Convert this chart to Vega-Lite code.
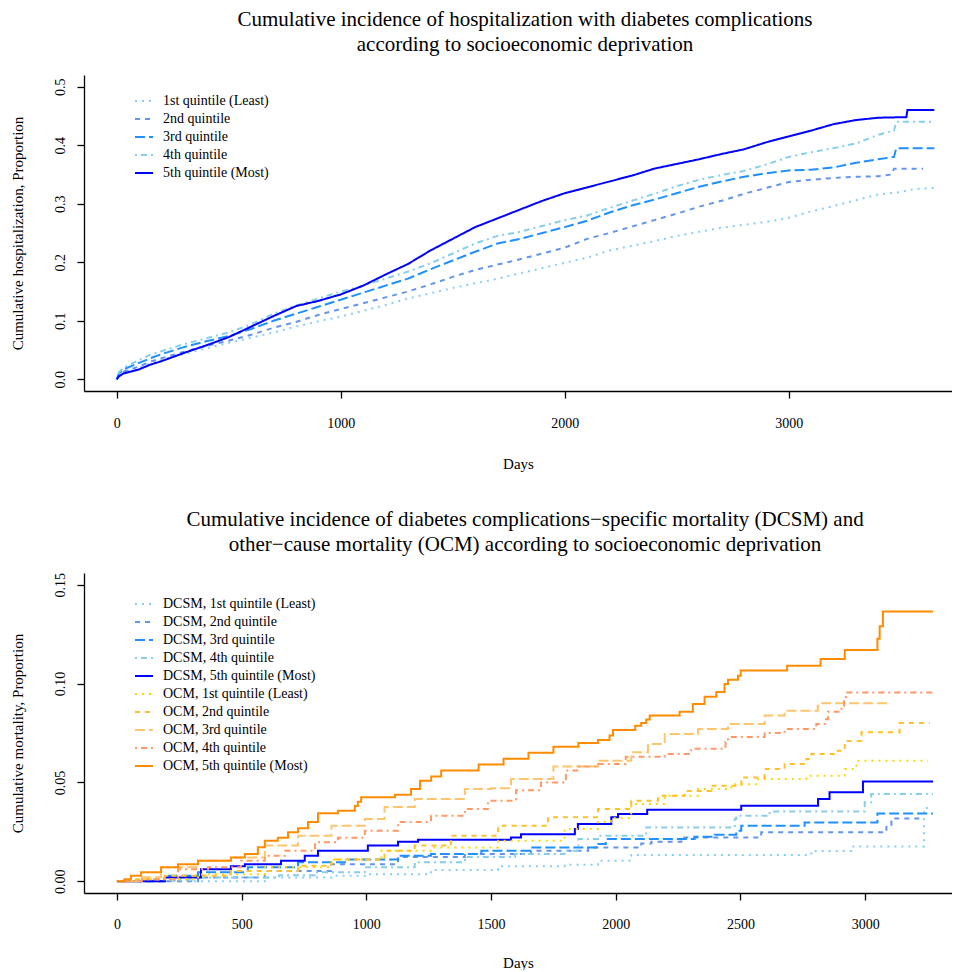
{
  "$schema": "https://vega.github.io/schema/vega-lite/v6.json",
  "padding": {"left": 10, "top": 9, "right": 0, "bottom": 0},
  "bounds": "flush",
  "spacing": 182,
  "datasets": {
    "hosp": [
      {"g":"1st quintile (Least)","d":0,"p":0},{"g":"1st quintile (Least)","d":10,"p":0.007},{"g":"1st quintile (Least)","d":30,"p":0.012},{"g":"1st quintile (Least)","d":100,"p":0.020},{"g":"1st quintile (Least)","d":150,"p":0.027},{"g":"1st quintile (Least)","d":200,"p":0.033},{"g":"1st quintile (Least)","d":300,"p":0.043},{"g":"1st quintile (Least)","d":400,"p":0.053},{"g":"1st quintile (Least)","d":500,"p":0.062},{"g":"1st quintile (Least)","d":600,"p":0.071},{"g":"1st quintile (Least)","d":700,"p":0.080},{"g":"1st quintile (Least)","d":800,"p":0.090},{"g":"1st quintile (Least)","d":900,"p":0.099},{"g":"1st quintile (Least)","d":1000,"p":0.107},{"g":"1st quintile (Least)","d":1100,"p":0.117},{"g":"1st quintile (Least)","d":1200,"p":0.127},{"g":"1st quintile (Least)","d":1300,"p":0.138},{"g":"1st quintile (Least)","d":1400,"p":0.147},{"g":"1st quintile (Least)","d":1500,"p":0.156},{"g":"1st quintile (Least)","d":1600,"p":0.164},{"g":"1st quintile (Least)","d":1700,"p":0.172},{"g":"1st quintile (Least)","d":1800,"p":0.181},{"g":"1st quintile (Least)","d":1900,"p":0.190},{"g":"1st quintile (Least)","d":2000,"p":0.199},{"g":"1st quintile (Least)","d":2100,"p":0.208},{"g":"1st quintile (Least)","d":2200,"p":0.220},{"g":"1st quintile (Least)","d":2300,"p":0.228},{"g":"1st quintile (Least)","d":2400,"p":0.236},{"g":"1st quintile (Least)","d":2500,"p":0.245},{"g":"1st quintile (Least)","d":2600,"p":0.252},{"g":"1st quintile (Least)","d":2700,"p":0.259},{"g":"1st quintile (Least)","d":2800,"p":0.264},{"g":"1st quintile (Least)","d":2900,"p":0.269},{"g":"1st quintile (Least)","d":3000,"p":0.276},{"g":"1st quintile (Least)","d":3100,"p":0.287},{"g":"1st quintile (Least)","d":3200,"p":0.296},{"g":"1st quintile (Least)","d":3300,"p":0.306},{"g":"1st quintile (Least)","d":3400,"p":0.316},{"g":"1st quintile (Least)","d":3500,"p":0.320},{"g":"1st quintile (Least)","d":3560,"p":0.325},{"g":"1st quintile (Least)","d":3650,"p":0.327},
      {"g":"2nd quintile","d":0,"p":0},{"g":"2nd quintile","d":10,"p":0.008},{"g":"2nd quintile","d":30,"p":0.013},{"g":"2nd quintile","d":100,"p":0.022},{"g":"2nd quintile","d":150,"p":0.030},{"g":"2nd quintile","d":200,"p":0.036},{"g":"2nd quintile","d":300,"p":0.047},{"g":"2nd quintile","d":400,"p":0.057},{"g":"2nd quintile","d":500,"p":0.066},{"g":"2nd quintile","d":600,"p":0.076},{"g":"2nd quintile","d":700,"p":0.088},{"g":"2nd quintile","d":800,"p":0.098},{"g":"2nd quintile","d":900,"p":0.110},{"g":"2nd quintile","d":1000,"p":0.120},{"g":"2nd quintile","d":1100,"p":0.130},{"g":"2nd quintile","d":1200,"p":0.140},{"g":"2nd quintile","d":1300,"p":0.150},{"g":"2nd quintile","d":1400,"p":0.162},{"g":"2nd quintile","d":1500,"p":0.175},{"g":"2nd quintile","d":1600,"p":0.187},{"g":"2nd quintile","d":1700,"p":0.196},{"g":"2nd quintile","d":1800,"p":0.205},{"g":"2nd quintile","d":1900,"p":0.215},{"g":"2nd quintile","d":2000,"p":0.225},{"g":"2nd quintile","d":2100,"p":0.240},{"g":"2nd quintile","d":2200,"p":0.250},{"g":"2nd quintile","d":2300,"p":0.261},{"g":"2nd quintile","d":2400,"p":0.272},{"g":"2nd quintile","d":2500,"p":0.283},{"g":"2nd quintile","d":2600,"p":0.295},{"g":"2nd quintile","d":2700,"p":0.305},{"g":"2nd quintile","d":2800,"p":0.317},{"g":"2nd quintile","d":2900,"p":0.327},{"g":"2nd quintile","d":3000,"p":0.337},{"g":"2nd quintile","d":3100,"p":0.341},{"g":"2nd quintile","d":3200,"p":0.344},{"g":"2nd quintile","d":3300,"p":0.346},{"g":"2nd quintile","d":3400,"p":0.347},{"g":"2nd quintile","d":3460,"p":0.350},{"g":"2nd quintile","d":3470,"p":0.360},{"g":"2nd quintile","d":3600,"p":0.360},
      {"g":"3rd quintile","d":0,"p":0},{"g":"3rd quintile","d":10,"p":0.010},{"g":"3rd quintile","d":30,"p":0.017},{"g":"3rd quintile","d":100,"p":0.028},{"g":"3rd quintile","d":150,"p":0.036},{"g":"3rd quintile","d":200,"p":0.043},{"g":"3rd quintile","d":300,"p":0.055},{"g":"3rd quintile","d":400,"p":0.065},{"g":"3rd quintile","d":500,"p":0.074},{"g":"3rd quintile","d":600,"p":0.086},{"g":"3rd quintile","d":700,"p":0.100},{"g":"3rd quintile","d":800,"p":0.112},{"g":"3rd quintile","d":900,"p":0.124},{"g":"3rd quintile","d":1000,"p":0.136},{"g":"3rd quintile","d":1100,"p":0.148},{"g":"3rd quintile","d":1200,"p":0.160},{"g":"3rd quintile","d":1300,"p":0.172},{"g":"3rd quintile","d":1400,"p":0.188},{"g":"3rd quintile","d":1500,"p":0.203},{"g":"3rd quintile","d":1600,"p":0.218},{"g":"3rd quintile","d":1700,"p":0.232},{"g":"3rd quintile","d":1800,"p":0.240},{"g":"3rd quintile","d":1900,"p":0.250},{"g":"3rd quintile","d":2000,"p":0.260},{"g":"3rd quintile","d":2100,"p":0.271},{"g":"3rd quintile","d":2200,"p":0.285},{"g":"3rd quintile","d":2300,"p":0.297},{"g":"3rd quintile","d":2400,"p":0.307},{"g":"3rd quintile","d":2500,"p":0.318},{"g":"3rd quintile","d":2600,"p":0.329},{"g":"3rd quintile","d":2700,"p":0.338},{"g":"3rd quintile","d":2800,"p":0.346},{"g":"3rd quintile","d":2900,"p":0.352},{"g":"3rd quintile","d":3000,"p":0.357},{"g":"3rd quintile","d":3100,"p":0.358},{"g":"3rd quintile","d":3200,"p":0.362},{"g":"3rd quintile","d":3300,"p":0.370},{"g":"3rd quintile","d":3400,"p":0.376},{"g":"3rd quintile","d":3470,"p":0.380},{"g":"3rd quintile","d":3480,"p":0.395},{"g":"3rd quintile","d":3650,"p":0.395},
      {"g":"4th quintile","d":0,"p":0},{"g":"4th quintile","d":10,"p":0.012},{"g":"4th quintile","d":30,"p":0.020},{"g":"4th quintile","d":100,"p":0.033},{"g":"4th quintile","d":150,"p":0.042},{"g":"4th quintile","d":200,"p":0.048},{"g":"4th quintile","d":300,"p":0.060},{"g":"4th quintile","d":400,"p":0.070},{"g":"4th quintile","d":500,"p":0.080},{"g":"4th quintile","d":600,"p":0.094},{"g":"4th quintile","d":700,"p":0.112},{"g":"4th quintile","d":800,"p":0.126},{"g":"4th quintile","d":900,"p":0.138},{"g":"4th quintile","d":1000,"p":0.150},{"g":"4th quintile","d":1100,"p":0.160},{"g":"4th quintile","d":1200,"p":0.172},{"g":"4th quintile","d":1300,"p":0.184},{"g":"4th quintile","d":1400,"p":0.198},{"g":"4th quintile","d":1500,"p":0.215},{"g":"4th quintile","d":1600,"p":0.232},{"g":"4th quintile","d":1700,"p":0.245},{"g":"4th quintile","d":1800,"p":0.252},{"g":"4th quintile","d":1900,"p":0.262},{"g":"4th quintile","d":2000,"p":0.272},{"g":"4th quintile","d":2100,"p":0.280},{"g":"4th quintile","d":2200,"p":0.293},{"g":"4th quintile","d":2300,"p":0.305},{"g":"4th quintile","d":2400,"p":0.317},{"g":"4th quintile","d":2500,"p":0.330},{"g":"4th quintile","d":2600,"p":0.341},{"g":"4th quintile","d":2700,"p":0.349},{"g":"4th quintile","d":2800,"p":0.356},{"g":"4th quintile","d":2900,"p":0.367},{"g":"4th quintile","d":3000,"p":0.380},{"g":"4th quintile","d":3100,"p":0.388},{"g":"4th quintile","d":3200,"p":0.395},{"g":"4th quintile","d":3300,"p":0.403},{"g":"4th quintile","d":3400,"p":0.418},{"g":"4th quintile","d":3470,"p":0.425},{"g":"4th quintile","d":3480,"p":0.440},{"g":"4th quintile","d":3650,"p":0.440},
      {"g":"5th quintile (Most)","d":0,"p":0},{"g":"5th quintile (Most)","d":10,"p":0.005},{"g":"5th quintile (Most)","d":30,"p":0.010},{"g":"5th quintile (Most)","d":60,"p":0.013},{"g":"5th quintile (Most)","d":100,"p":0.017},{"g":"5th quintile (Most)","d":150,"p":0.025},{"g":"5th quintile (Most)","d":200,"p":0.031},{"g":"5th quintile (Most)","d":300,"p":0.045},{"g":"5th quintile (Most)","d":400,"p":0.058},{"g":"5th quintile (Most)","d":500,"p":0.072},{"g":"5th quintile (Most)","d":600,"p":0.090},{"g":"5th quintile (Most)","d":700,"p":0.108},{"g":"5th quintile (Most)","d":800,"p":0.125},{"g":"5th quintile (Most)","d":900,"p":0.134},{"g":"5th quintile (Most)","d":1000,"p":0.145},{"g":"5th quintile (Most)","d":1100,"p":0.160},{"g":"5th quintile (Most)","d":1200,"p":0.179},{"g":"5th quintile (Most)","d":1300,"p":0.197},{"g":"5th quintile (Most)","d":1400,"p":0.220},{"g":"5th quintile (Most)","d":1500,"p":0.240},{"g":"5th quintile (Most)","d":1600,"p":0.260},{"g":"5th quintile (Most)","d":1700,"p":0.275},{"g":"5th quintile (Most)","d":1800,"p":0.290},{"g":"5th quintile (Most)","d":1900,"p":0.305},{"g":"5th quintile (Most)","d":2000,"p":0.318},{"g":"5th quintile (Most)","d":2100,"p":0.328},{"g":"5th quintile (Most)","d":2200,"p":0.338},{"g":"5th quintile (Most)","d":2300,"p":0.348},{"g":"5th quintile (Most)","d":2400,"p":0.360},{"g":"5th quintile (Most)","d":2500,"p":0.368},{"g":"5th quintile (Most)","d":2600,"p":0.376},{"g":"5th quintile (Most)","d":2700,"p":0.385},{"g":"5th quintile (Most)","d":2800,"p":0.393},{"g":"5th quintile (Most)","d":2900,"p":0.405},{"g":"5th quintile (Most)","d":3000,"p":0.415},{"g":"5th quintile (Most)","d":3100,"p":0.425},{"g":"5th quintile (Most)","d":3200,"p":0.436},{"g":"5th quintile (Most)","d":3300,"p":0.443},{"g":"5th quintile (Most)","d":3400,"p":0.447},{"g":"5th quintile (Most)","d":3525,"p":0.448},{"g":"5th quintile (Most)","d":3530,"p":0.460},{"g":"5th quintile (Most)","d":3650,"p":0.460}
    ],
    "mort": [
      {"g":"DCSM, 1st quintile (Least)","d":0,"p":0},{"g":"DCSM, 1st quintile (Least)","d":600,"p":0.0019},{"g":"DCSM, 1st quintile (Least)","d":860,"p":0.0027},{"g":"DCSM, 1st quintile (Least)","d":994,"p":0.0035},{"g":"DCSM, 1st quintile (Least)","d":1259,"p":0.0057},{"g":"DCSM, 1st quintile (Least)","d":1528,"p":0.0076},{"g":"DCSM, 1st quintile (Least)","d":1795,"p":0.0083},{"g":"DCSM, 1st quintile (Least)","d":1929,"p":0.0103},{"g":"DCSM, 1st quintile (Least)","d":2062,"p":0.0132},{"g":"DCSM, 1st quintile (Least)","d":2784,"p":0.0153},{"g":"DCSM, 1st quintile (Least)","d":2944,"p":0.0175},{"g":"DCSM, 1st quintile (Least)","d":3236,"p":0.037},{"g":"DCSM, 1st quintile (Least)","d":3265,"p":0.037},
      {"g":"DCSM, 2nd quintile","d":0,"p":0},{"g":"DCSM, 2nd quintile","d":325,"p":0.0019},{"g":"DCSM, 2nd quintile","d":593,"p":0.0052},{"g":"DCSM, 2nd quintile","d":860,"p":0.0086},{"g":"DCSM, 2nd quintile","d":1127,"p":0.0122},{"g":"DCSM, 2nd quintile","d":1395,"p":0.0137},{"g":"DCSM, 2nd quintile","d":1660,"p":0.0154},{"g":"DCSM, 2nd quintile","d":1889,"p":0.017},{"g":"DCSM, 2nd quintile","d":2102,"p":0.019},{"g":"DCSM, 2nd quintile","d":2143,"p":0.0199},{"g":"DCSM, 2nd quintile","d":2263,"p":0.0221},{"g":"DCSM, 2nd quintile","d":2583,"p":0.0247},{"g":"DCSM, 2nd quintile","d":3085,"p":0.0284},{"g":"DCSM, 2nd quintile","d":3105,"p":0.0317},{"g":"DCSM, 2nd quintile","d":3232,"p":0.0317},
      {"g":"DCSM, 3rd quintile","d":0,"p":0},{"g":"DCSM, 3rd quintile","d":192,"p":0.0027},{"g":"DCSM, 3rd quintile","d":325,"p":0.0045},{"g":"DCSM, 3rd quintile","d":525,"p":0.007},{"g":"DCSM, 3rd quintile","d":726,"p":0.0096},{"g":"DCSM, 3rd quintile","d":926,"p":0.011},{"g":"DCSM, 3rd quintile","d":1127,"p":0.0128},{"g":"DCSM, 3rd quintile","d":1259,"p":0.0137},{"g":"DCSM, 3rd quintile","d":1461,"p":0.0154},{"g":"DCSM, 3rd quintile","d":1660,"p":0.017},{"g":"DCSM, 3rd quintile","d":1929,"p":0.0188},{"g":"DCSM, 3rd quintile","d":1960,"p":0.0213},{"g":"DCSM, 3rd quintile","d":2316,"p":0.0225},{"g":"DCSM, 3rd quintile","d":2396,"p":0.0235},{"g":"DCSM, 3rd quintile","d":2483,"p":0.0255},{"g":"DCSM, 3rd quintile","d":2503,"p":0.028},{"g":"DCSM, 3rd quintile","d":2757,"p":0.0297},{"g":"DCSM, 3rd quintile","d":3049,"p":0.0343},{"g":"DCSM, 3rd quintile","d":3272,"p":0.0343},
      {"g":"DCSM, 4th quintile","d":0,"p":0},{"g":"DCSM, 4th quintile","d":100,"p":0.0005},{"g":"DCSM, 4th quintile","d":300,"p":0.0019},{"g":"DCSM, 4th quintile","d":650,"p":0.003},{"g":"DCSM, 4th quintile","d":794,"p":0.0045},{"g":"DCSM, 4th quintile","d":994,"p":0.007},{"g":"DCSM, 4th quintile","d":1194,"p":0.0096},{"g":"DCSM, 4th quintile","d":1395,"p":0.0122},{"g":"DCSM, 4th quintile","d":1596,"p":0.0137},{"g":"DCSM, 4th quintile","d":1795,"p":0.0154},{"g":"DCSM, 4th quintile","d":1850,"p":0.0213},{"g":"DCSM, 4th quintile","d":1929,"p":0.023},{"g":"DCSM, 4th quintile","d":2122,"p":0.0272},{"g":"DCSM, 4th quintile","d":2477,"p":0.0314},{"g":"DCSM, 4th quintile","d":2483,"p":0.0331},{"g":"DCSM, 4th quintile","d":2617,"p":0.0353},{"g":"DCSM, 4th quintile","d":2998,"p":0.0399},{"g":"DCSM, 4th quintile","d":3024,"p":0.0441},{"g":"DCSM, 4th quintile","d":3272,"p":0.0441},
      {"g":"DCSM, 5th quintile (Most)","d":0,"p":0},{"g":"DCSM, 5th quintile (Most)","d":192,"p":0.0019},{"g":"DCSM, 5th quintile (Most)","d":337,"p":0.006},{"g":"DCSM, 5th quintile (Most)","d":457,"p":0.0076},{"g":"DCSM, 5th quintile (Most)","d":513,"p":0.0085},{"g":"DCSM, 5th quintile (Most)","d":658,"p":0.0103},{"g":"DCSM, 5th quintile (Most)","d":753,"p":0.0128},{"g":"DCSM, 5th quintile (Most)","d":806,"p":0.0154},{"g":"DCSM, 5th quintile (Most)","d":1006,"p":0.018},{"g":"DCSM, 5th quintile (Most)","d":1127,"p":0.0199},{"g":"DCSM, 5th quintile (Most)","d":1207,"p":0.0209},{"g":"DCSM, 5th quintile (Most)","d":1580,"p":0.0221},{"g":"DCSM, 5th quintile (Most)","d":1620,"p":0.0238},{"g":"DCSM, 5th quintile (Most)","d":1836,"p":0.0264},{"g":"DCSM, 5th quintile (Most)","d":1848,"p":0.0289},{"g":"DCSM, 5th quintile (Most)","d":1982,"p":0.0323},{"g":"DCSM, 5th quintile (Most)","d":2009,"p":0.034},{"g":"DCSM, 5th quintile (Most)","d":2126,"p":0.0361},{"g":"DCSM, 5th quintile (Most)","d":2503,"p":0.0382},{"g":"DCSM, 5th quintile (Most)","d":2811,"p":0.0416},{"g":"DCSM, 5th quintile (Most)","d":2857,"p":0.045},{"g":"DCSM, 5th quintile (Most)","d":2991,"p":0.0505},{"g":"DCSM, 5th quintile (Most)","d":3272,"p":0.0505},
      {"g":"OCM, 1st quintile (Least)","d":0,"p":0},{"g":"OCM, 1st quintile (Least)","d":60,"p":0.001},{"g":"OCM, 1st quintile (Least)","d":325,"p":0.0035},{"g":"OCM, 1st quintile (Least)","d":593,"p":0.007},{"g":"OCM, 1st quintile (Least)","d":860,"p":0.011},{"g":"OCM, 1st quintile (Least)","d":1060,"p":0.0154},{"g":"OCM, 1st quintile (Least)","d":1259,"p":0.017},{"g":"OCM, 1st quintile (Least)","d":1528,"p":0.0204},{"g":"OCM, 1st quintile (Least)","d":1795,"p":0.0264},{"g":"OCM, 1st quintile (Least)","d":1929,"p":0.030},{"g":"OCM, 1st quintile (Least)","d":1980,"p":0.032},{"g":"OCM, 1st quintile (Least)","d":2062,"p":0.039},{"g":"OCM, 1st quintile (Least)","d":2196,"p":0.0432},{"g":"OCM, 1st quintile (Least)","d":2330,"p":0.0466},{"g":"OCM, 1st quintile (Least)","d":2463,"p":0.049},{"g":"OCM, 1st quintile (Least)","d":2570,"p":0.0517},{"g":"OCM, 1st quintile (Least)","d":2764,"p":0.0533},{"g":"OCM, 1st quintile (Least)","d":2918,"p":0.0568},{"g":"OCM, 1st quintile (Least)","d":2965,"p":0.061},{"g":"OCM, 1st quintile (Least)","d":3252,"p":0.061},
      {"g":"OCM, 2nd quintile","d":0,"p":0},{"g":"OCM, 2nd quintile","d":60,"p":0.001},{"g":"OCM, 2nd quintile","d":192,"p":0.0027},{"g":"OCM, 2nd quintile","d":457,"p":0.0052},{"g":"OCM, 2nd quintile","d":726,"p":0.0078},{"g":"OCM, 2nd quintile","d":860,"p":0.011},{"g":"OCM, 2nd quintile","d":1073,"p":0.0154},{"g":"OCM, 2nd quintile","d":1194,"p":0.018},{"g":"OCM, 2nd quintile","d":1339,"p":0.023},{"g":"OCM, 2nd quintile","d":1528,"p":0.028},{"g":"OCM, 2nd quintile","d":1728,"p":0.0324},{"g":"OCM, 2nd quintile","d":1929,"p":0.0365},{"g":"OCM, 2nd quintile","d":2062,"p":0.0407},{"g":"OCM, 2nd quintile","d":2169,"p":0.0432},{"g":"OCM, 2nd quintile","d":2276,"p":0.0457},{"g":"OCM, 2nd quintile","d":2383,"p":0.0483},{"g":"OCM, 2nd quintile","d":2503,"p":0.0525},{"g":"OCM, 2nd quintile","d":2597,"p":0.0568},{"g":"OCM, 2nd quintile","d":2677,"p":0.0593},{"g":"OCM, 2nd quintile","d":2764,"p":0.0618},{"g":"OCM, 2nd quintile","d":2784,"p":0.0644},{"g":"OCM, 2nd quintile","d":2884,"p":0.066},{"g":"OCM, 2nd quintile","d":2918,"p":0.071},{"g":"OCM, 2nd quintile","d":2985,"p":0.0754},{"g":"OCM, 2nd quintile","d":3138,"p":0.080},{"g":"OCM, 2nd quintile","d":3259,"p":0.080},
      {"g":"OCM, 3rd quintile","d":0,"p":0},{"g":"OCM, 3rd quintile","d":100,"p":0.002},{"g":"OCM, 3rd quintile","d":177,"p":0.007},{"g":"OCM, 3rd quintile","d":325,"p":0.0103},{"g":"OCM, 3rd quintile","d":457,"p":0.012},{"g":"OCM, 3rd quintile","d":593,"p":0.018},{"g":"OCM, 3rd quintile","d":726,"p":0.023},{"g":"OCM, 3rd quintile","d":860,"p":0.028},{"g":"OCM, 3rd quintile","d":994,"p":0.0314},{"g":"OCM, 3rd quintile","d":1073,"p":0.0375},{"g":"OCM, 3rd quintile","d":1194,"p":0.0416},{"g":"OCM, 3rd quintile","d":1395,"p":0.0466},{"g":"OCM, 3rd quintile","d":1500,"p":0.047},{"g":"OCM, 3rd quintile","d":1580,"p":0.0517},{"g":"OCM, 3rd quintile","d":1750,"p":0.058},{"g":"OCM, 3rd quintile","d":1929,"p":0.061},{"g":"OCM, 3rd quintile","d":2062,"p":0.0652},{"g":"OCM, 3rd quintile","d":2129,"p":0.0694},{"g":"OCM, 3rd quintile","d":2196,"p":0.0745},{"g":"OCM, 3rd quintile","d":2330,"p":0.077},{"g":"OCM, 3rd quintile","d":2450,"p":0.0796},{"g":"OCM, 3rd quintile","d":2597,"p":0.0838},{"g":"OCM, 3rd quintile","d":2677,"p":0.0863},{"g":"OCM, 3rd quintile","d":2810,"p":0.0888},{"g":"OCM, 3rd quintile","d":2817,"p":0.090},{"g":"OCM, 3rd quintile","d":3091,"p":0.090},
      {"g":"OCM, 4th quintile","d":0,"p":0},{"g":"OCM, 4th quintile","d":100,"p":0.001},{"g":"OCM, 4th quintile","d":245,"p":0.006},{"g":"OCM, 4th quintile","d":365,"p":0.007},{"g":"OCM, 4th quintile","d":497,"p":0.0103},{"g":"OCM, 4th quintile","d":593,"p":0.0128},{"g":"OCM, 4th quintile","d":674,"p":0.0154},{"g":"OCM, 4th quintile","d":794,"p":0.0197},{"g":"OCM, 4th quintile","d":886,"p":0.022},{"g":"OCM, 4th quintile","d":994,"p":0.0255},{"g":"OCM, 4th quintile","d":1127,"p":0.030},{"g":"OCM, 4th quintile","d":1259,"p":0.0331},{"g":"OCM, 4th quintile","d":1395,"p":0.0365},{"g":"OCM, 4th quintile","d":1488,"p":0.0407},{"g":"OCM, 4th quintile","d":1600,"p":0.046},{"g":"OCM, 4th quintile","d":1700,"p":0.050},{"g":"OCM, 4th quintile","d":1800,"p":0.056},{"g":"OCM, 4th quintile","d":1850,"p":0.058},{"g":"OCM, 4th quintile","d":1929,"p":0.0593},{"g":"OCM, 4th quintile","d":2040,"p":0.063},{"g":"OCM, 4th quintile","d":2196,"p":0.0644},{"g":"OCM, 4th quintile","d":2302,"p":0.067},{"g":"OCM, 4th quintile","d":2440,"p":0.0705},{"g":"OCM, 4th quintile","d":2450,"p":0.073},{"g":"OCM, 4th quintile","d":2597,"p":0.075},{"g":"OCM, 4th quintile","d":2677,"p":0.077},{"g":"OCM, 4th quintile","d":2804,"p":0.0796},{"g":"OCM, 4th quintile","d":2838,"p":0.082},{"g":"OCM, 4th quintile","d":2851,"p":0.0857},{"g":"OCM, 4th quintile","d":2905,"p":0.0888},{"g":"OCM, 4th quintile","d":2915,"p":0.0932},{"g":"OCM, 4th quintile","d":2924,"p":0.0955},{"g":"OCM, 4th quintile","d":3272,"p":0.0955},
      {"g":"OCM, 5th quintile (Most)","d":0,"p":0},{"g":"OCM, 5th quintile (Most)","d":30,"p":0.001},{"g":"OCM, 5th quintile (Most)","d":56,"p":0.0027},{"g":"OCM, 5th quintile (Most)","d":97,"p":0.0045},{"g":"OCM, 5th quintile (Most)","d":177,"p":0.007},{"g":"OCM, 5th quintile (Most)","d":245,"p":0.0086},{"g":"OCM, 5th quintile (Most)","d":325,"p":0.0103},{"g":"OCM, 5th quintile (Most)","d":457,"p":0.012},{"g":"OCM, 5th quintile (Most)","d":513,"p":0.0137},{"g":"OCM, 5th quintile (Most)","d":565,"p":0.0172},{"g":"OCM, 5th quintile (Most)","d":593,"p":0.0204},{"g":"OCM, 5th quintile (Most)","d":645,"p":0.022},{"g":"OCM, 5th quintile (Most)","d":686,"p":0.0248},{"g":"OCM, 5th quintile (Most)","d":726,"p":0.0268},{"g":"OCM, 5th quintile (Most)","d":766,"p":0.030},{"g":"OCM, 5th quintile (Most)","d":806,"p":0.0344},{"g":"OCM, 5th quintile (Most)","d":886,"p":0.0356},{"g":"OCM, 5th quintile (Most)","d":954,"p":0.0381},{"g":"OCM, 5th quintile (Most)","d":966,"p":0.0402},{"g":"OCM, 5th quintile (Most)","d":979,"p":0.0425},{"g":"OCM, 5th quintile (Most)","d":1115,"p":0.0437},{"g":"OCM, 5th quintile (Most)","d":1179,"p":0.0466},{"g":"OCM, 5th quintile (Most)","d":1215,"p":0.0508},{"g":"OCM, 5th quintile (Most)","d":1260,"p":0.053},{"g":"OCM, 5th quintile (Most)","d":1300,"p":0.056},{"g":"OCM, 5th quintile (Most)","d":1450,"p":0.059},{"g":"OCM, 5th quintile (Most)","d":1550,"p":0.062},{"g":"OCM, 5th quintile (Most)","d":1650,"p":0.065},{"g":"OCM, 5th quintile (Most)","d":1750,"p":0.068},{"g":"OCM, 5th quintile (Most)","d":1850,"p":0.070},{"g":"OCM, 5th quintile (Most)","d":1929,"p":0.0715},{"g":"OCM, 5th quintile (Most)","d":1975,"p":0.0737},{"g":"OCM, 5th quintile (Most)","d":1989,"p":0.0765},{"g":"OCM, 5th quintile (Most)","d":2078,"p":0.0787},{"g":"OCM, 5th quintile (Most)","d":2102,"p":0.080},{"g":"OCM, 5th quintile (Most)","d":2122,"p":0.0818},{"g":"OCM, 5th quintile (Most)","d":2136,"p":0.0838},{"g":"OCM, 5th quintile (Most)","d":2256,"p":0.0857},{"g":"OCM, 5th quintile (Most)","d":2309,"p":0.0897},{"g":"OCM, 5th quintile (Most)","d":2356,"p":0.0934},{"g":"OCM, 5th quintile (Most)","d":2403,"p":0.0958},{"g":"OCM, 5th quintile (Most)","d":2436,"p":0.0998},{"g":"OCM, 5th quintile (Most)","d":2450,"p":0.102},{"g":"OCM, 5th quintile (Most)","d":2490,"p":0.104},{"g":"OCM, 5th quintile (Most)","d":2501,"p":0.1066},{"g":"OCM, 5th quintile (Most)","d":2687,"p":0.109},{"g":"OCM, 5th quintile (Most)","d":2821,"p":0.1125},{"g":"OCM, 5th quintile (Most)","d":2918,"p":0.117},{"g":"OCM, 5th quintile (Most)","d":3049,"p":0.1227},{"g":"OCM, 5th quintile (Most)","d":3058,"p":0.129},{"g":"OCM, 5th quintile (Most)","d":3071,"p":0.1365},{"g":"OCM, 5th quintile (Most)","d":3272,"p":0.1365}
    ]
  },
  "vconcat": [
    {
      "width": 868,
      "height": 316,
      "title": {"text": ["Cumulative incidence of hospitalization with diabetes complications", "according to socioeconomic deprivation"], "offset": 20, "dx": 7},
      "data": {"name": "hosp"},
      "mark": {"type": "line", "strokeWidth": 2, "interpolate": "linear", "strokeCap": "butt"},
      "encoding": {
        "x": {"field": "d", "type": "quantitative", "scale": {"domain": [-146, 3729], "nice": false, "zero": false}, "axis": {"values": [0, 1000, 2000, 3000], "format": "d", "title": "Days", "labelPadding": 18, "titlePadding": 26}},
        "y": {"field": "p", "type": "quantitative", "scale": {"domain": [-0.02, 0.52], "nice": false, "zero": false}, "axis": {"values": [0, 0.1, 0.2, 0.3, 0.4, 0.5], "format": ".1f", "labelAngle": -90, "labelPadding": 10, "title": "Cumulative hospitalization, Proportion", "titlePadding": 28}},
        "color": {"field": "g", "type": "nominal", "scale": {"domain": ["1st quintile (Least)", "2nd quintile", "3rd quintile", "4th quintile", "5th quintile (Most)"], "range": ["#87CEFA", "#6495ED", "#1E90FF", "#87CEEB", "#0000FF"]}, "legend": {"orient": "none", "legendX": 50, "legendY": 16}},
        "strokeDash": {"field": "g", "type": "nominal", "scale": {"domain": ["1st quintile (Least)", "2nd quintile", "3rd quintile", "4th quintile", "5th quintile (Most)"], "range": [[2, 5], [5, 5], [10, 4], [2, 4, 6, 4], [1, 0]]}, "legend": {"orient": "none", "legendX": 50, "legendY": 16}}
      }
    },
    {
      "width": 868,
      "height": 320,
      "title": {"text": ["Cumulative incidence of diabetes complications−specific mortality (DCSM) and", "other−cause mortality (OCM) according to socioeconomic deprivation"], "offset": 18, "dx": 7},
      "data": {"name": "mort"},
      "mark": {"type": "line", "strokeWidth": 2, "interpolate": "step-after", "strokeCap": "butt"},
      "encoding": {
        "x": {"field": "d", "type": "quantitative", "scale": {"domain": [-132, 3348], "nice": false, "zero": false}, "axis": {"values": [0, 500, 1000, 1500, 2000, 2500, 3000], "format": "d", "title": "Days", "labelPadding": 17, "titlePadding": 24}},
        "y": {"field": "p", "type": "quantitative", "scale": {"domain": [-0.006, 0.156], "nice": false, "zero": false}, "axis": {"values": [0, 0.05, 0.1, 0.15], "format": ".2f", "labelAngle": -90, "labelPadding": 10, "title": "Cumulative mortality, Proportion", "titlePadding": 28}},
        "color": {"field": "g", "type": "nominal", "scale": {"domain": ["DCSM, 1st quintile (Least)", "DCSM, 2nd quintile", "DCSM, 3rd quintile", "DCSM, 4th quintile", "DCSM, 5th quintile (Most)", "OCM, 1st quintile (Least)", "OCM, 2nd quintile", "OCM, 3rd quintile", "OCM, 4th quintile", "OCM, 5th quintile (Most)"], "range": ["#87CEFA", "#6495ED", "#1E90FF", "#87CEEB", "#0000FF", "#FFD700", "#FFC125", "#FFC46E", "#FF9966", "#FF8C00"]}, "legend": {"orient": "none", "legendX": 50, "legendY": 21}},
        "strokeDash": {"field": "g", "type": "nominal", "scale": {"domain": ["DCSM, 1st quintile (Least)", "DCSM, 2nd quintile", "DCSM, 3rd quintile", "DCSM, 4th quintile", "DCSM, 5th quintile (Most)", "OCM, 1st quintile (Least)", "OCM, 2nd quintile", "OCM, 3rd quintile", "OCM, 4th quintile", "OCM, 5th quintile (Most)"], "range": [[2, 5], [5, 5], [10, 4], [2, 4, 6, 4], [1, 0], [2, 5], [5, 5], [10, 4], [2, 4, 6, 4], [1, 0]]}, "legend": {"orient": "none", "legendX": 50, "legendY": 21}}
      }
    }
  ],
  "resolve": {"scale": {"color": "independent", "strokeDash": "independent", "x": "independent", "y": "independent"}, "legend": {"color": "independent", "strokeDash": "independent"}},
  "config": {
    "view": {"stroke": null},
    "font": "Liberation Serif",
    "axis": {"labelFont": "Liberation Serif", "titleFont": "Liberation Serif", "labelFontSize": 14, "titleFontSize": 15, "titleFontWeight": "normal", "labelColor": "#000", "titleColor": "#000", "domainColor": "#000", "tickColor": "#000", "tickSize": 7, "grid": false, "domainWidth": 1.3, "tickWidth": 1.3, "labelFlush": false},
    "legend": {"title": null, "labelFont": "Liberation Serif", "labelFontSize": 14, "labelColor": "#000", "symbolType": "stroke", "symbolSize": 324, "symbolStrokeWidth": 2, "rowPadding": 1, "padding": 0, "labelOffset": 9, "labelLimit": 400},
    "title": {"font": "Liberation Serif", "fontSize": 21, "fontWeight": "normal", "color": "#000", "lineHeight": 25, "anchor": "middle"}
  }
}
